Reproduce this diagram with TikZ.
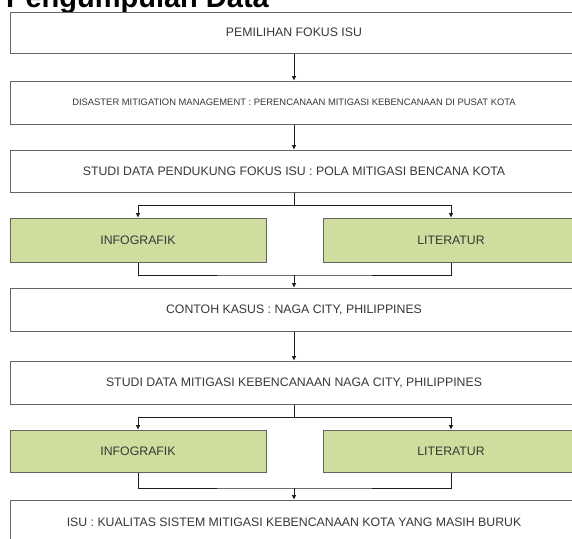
\documentclass[tikz,border=0pt]{standalone}
\usepackage{fontspec}
\setmainfont{Liberation Sans}
\usetikzlibrary{arrows.meta}
\definecolor{boxline}{RGB}{100,100,100}
\definecolor{txt}{RGB}{55,55,55}
\definecolor{greenfill}{RGB}{207,222,158}
\definecolor{arrowc}{RGB}{30,30,30}
\tikzset{
  wbox/.style={draw=boxline, line width=1pt, fill=white, minimum width=568pt, inner sep=0pt, text=txt, font=\fontsize{12.3}{14}\selectfont},
  gbox/.style={draw=boxline, line width=1pt, fill=greenfill, minimum width=256pt, inner sep=0pt, text=txt, font=\fontsize{12.3}{14}\selectfont},
  conn/.style={draw=arrowc, line width=0.9pt},
  arr/.style={conn, -{Triangle[length=4.5pt,width=4pt]}}
}
\begin{document}
\begin{tikzpicture}[x=1pt,y=1pt]
\useasboundingbox (0,0) rectangle (572,-538);
\node[anchor=base west, inner sep=0pt, font=\fontsize{29}{30}\selectfont\bfseries] (title) at (6,-7) {Pengumpulan Data};
\node[wbox, minimum height=41pt] (b1) at (294,-32.5) {PEMILIHAN FOKUS ISU};
\node[wbox, minimum height=43pt, font=\fontsize{9.4}{11}\selectfont] (b2) at (294,-102.5) {DISASTER MITIGATION MANAGEMENT : PERENCANAAN MITIGASI KEBENCANAAN DI PUSAT KOTA};
\node[wbox, minimum height=42pt] (b3) at (294,-171) {STUDI DATA PENDUKUNG FOKUS ISU : POLA MITIGASI BENCANA KOTA};
\node[gbox, minimum height=44pt] (g1l) at (138,-240) {INFOGRAFIK};
\node[gbox, minimum height=44pt] (g1r) at (451,-240) {LITERATUR};
\node[wbox, minimum height=43pt] (b4) at (294,-309.5) {CONTOH KASUS : NAGA CITY, PHILIPPINES};
\node[wbox, minimum height=43pt] (b5) at (294,-382.5) {STUDI DATA MITIGASI KEBENCANAAN NAGA CITY, PHILIPPINES};
\node[gbox, minimum height=42pt] (g2l) at (138,-451) {INFOGRAFIK};
\node[gbox, minimum height=42pt] (g2r) at (451,-451) {LITERATUR};
\node[wbox, minimum height=44pt] (b6) at (294,-522) {ISU : KUALITAS SISTEM MITIGASI KEBENCANAAN KOTA YANG MASIH BURUK};
\coordinate (s1) at (294,-205);
\coordinate (m1) at (294,-275);
\coordinate (s2) at (294,-417);
\coordinate (m2) at (294,-488);
\draw[arr] (b1) -- (b2);
\draw[arr] (b2) -- (b3);
\draw[conn] (b3.south) -- (s1);
\draw[arr] (s1) -| (g1l.north);
\draw[arr] (s1) -| (g1r.north);
\draw[conn] (g1l.south) |- (m1) -| (g1r.south);
\draw[arr] (m1) -- (b4.north);
\draw[arr] (b4) -- (b5);
\draw[conn] (b5.south) -- (s2);
\draw[arr] (s2) -| (g2l.north);
\draw[arr] (s2) -| (g2r.north);
\draw[conn] (g2l.south) |- (m2) -| (g2r.south);
\draw[arr] (m2) -- (b6.north);
\end{tikzpicture}
\end{document}
